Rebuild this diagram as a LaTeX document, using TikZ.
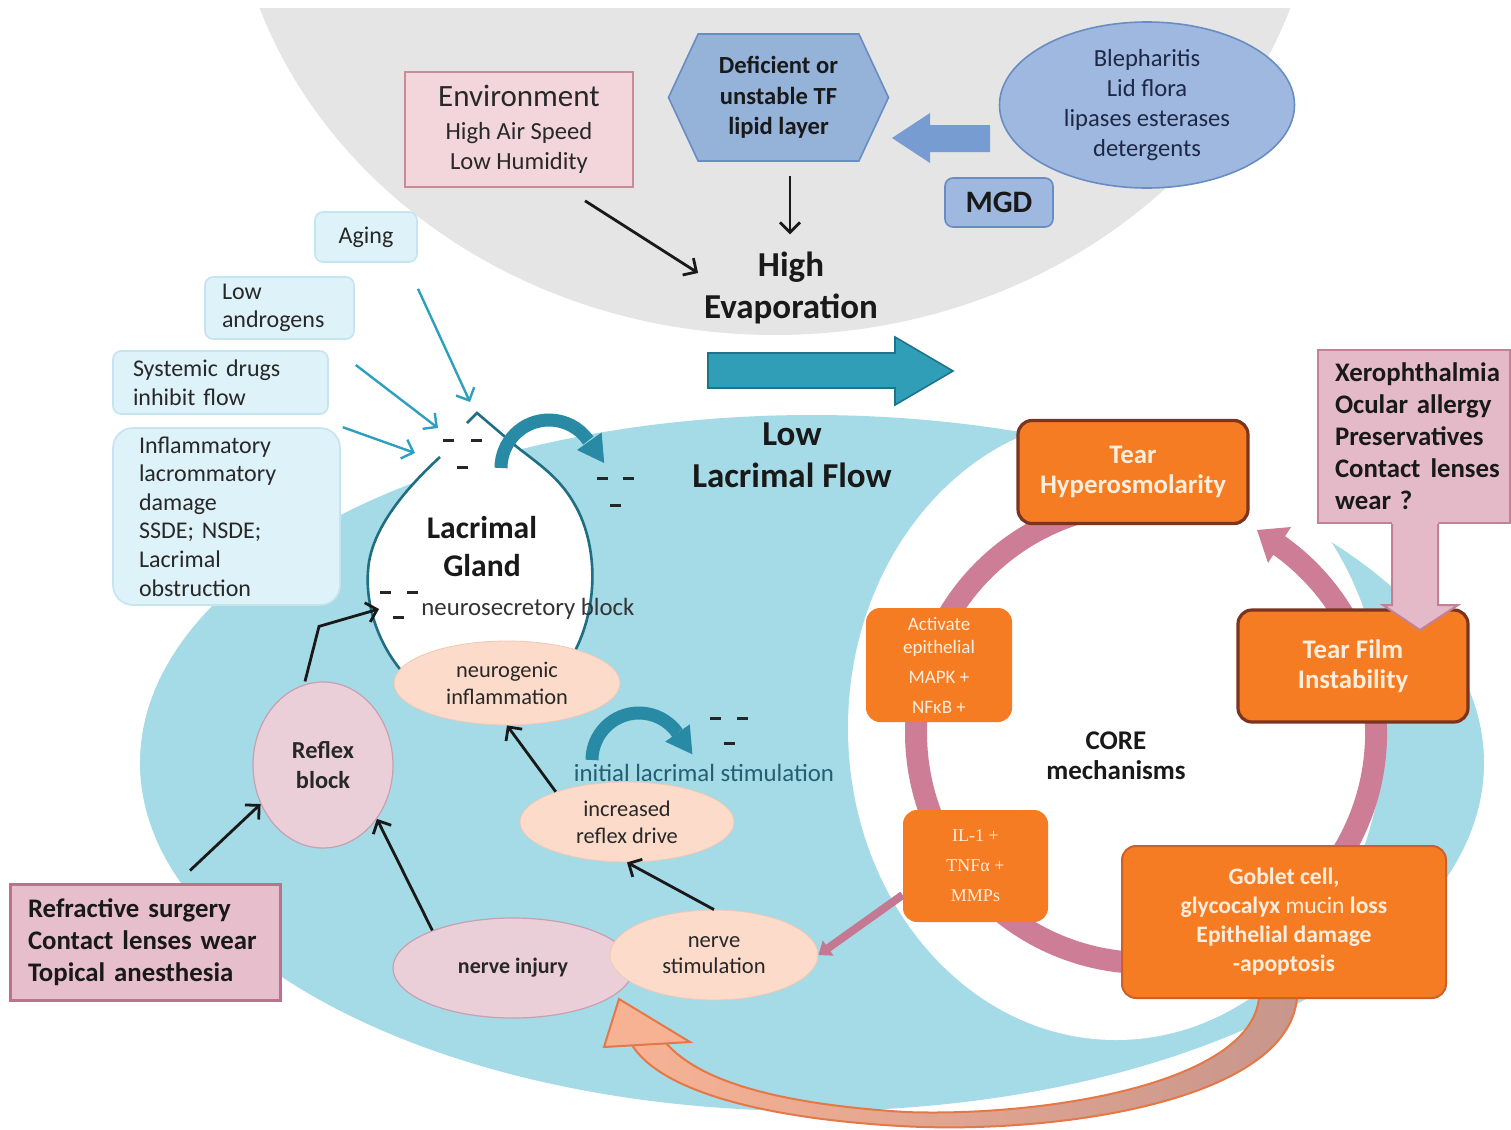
\documentclass[tikz,border=0pt]{standalone}
\usepackage{fontspec}
\setmainfont{Carlito}
\newfontfamily\serifx{Liberation Serif}
\usetikzlibrary{arrows.meta,shapes.geometric,shapes.symbols}
\definecolor{graybg}{RGB}{229,229,229}
\definecolor{lblue}{RGB}{165,218,231}
\definecolor{tealA}{RGB}{49,158,183}
\definecolor{tealD}{RGB}{30,115,140}
\definecolor{tealC}{RGB}{40,138,164}
\definecolor{tealL}{RGB}{45,160,190}
\definecolor{glandD}{RGB}{31,110,130}
\definecolor{hexF}{RGB}{149,179,217}
\definecolor{hexD}{RGB}{105,140,195}
\definecolor{bleF}{RGB}{158,184,223}
\definecolor{arrB}{RGB}{118,156,210}
\definecolor{envF}{RGB}{242,214,220}
\definecolor{envD}{RGB}{200,140,152}
\definecolor{boxLB}{RGB}{222,242,249}
\definecolor{boxLBd}{RGB}{196,228,239}
\definecolor{pinkF}{RGB}{234,207,217}
\definecolor{pinkD}{RGB}{200,160,176}
\definecolor{peachF}{RGB}{252,219,202}
\definecolor{peachD}{RGB}{240,200,180}
\definecolor{orangeF}{RGB}{245,124,34}
\definecolor{orangeD}{RGB}{125,52,30}
\definecolor{orangeM}{RGB}{205,95,45}
\definecolor{ringC}{RGB}{206,125,151}
\definecolor{xeroF}{RGB}{228,186,200}
\definecolor{xeroD}{RGB}{196,128,150}
\definecolor{refF}{RGB}{231,190,203}
\definecolor{refD}{RGB}{186,115,138}
\definecolor{paleT}{RGB}{255,238,222}
\definecolor{stimT}{RGB}{35,95,112}
\definecolor{botF}{RGB}{247,178,148}
\definecolor{botR}{RGB}{200,150,140}
\definecolor{botD}{RGB}{228,120,70}
\definecolor{mauveA}{RGB}{196,120,146}
\definecolor{txtD}{RGB}{40,40,40}
\definecolor{navyT}{RGB}{30,40,70}
\begin{document}
\begin{tikzpicture}[x=0.5pt,y=-0.5pt,
  blk/.style={draw=black!90,line width=1.4pt,-{Straight Barb[length=5pt,width=10pt]}},
  tl/.style={draw=tealL,line width=1.2pt,-{Straight Barb[length=5pt,width=10pt]}},
  lbox/.style={draw=boxLBd,fill=boxLB,line width=0.8pt,rounded corners=4pt,
    font=\fontsize{12}{14.3}\selectfont,text=txtD,inner ysep=0pt},
  pell/.style={ellipse,draw=pinkD,fill=pinkF,line width=0.6pt,inner sep=0pt,align=center,text=txtD},
  fell/.style={ellipse,fill=peachF,draw=peachD,line width=0.4pt,inner sep=0pt,align=center,
    font=\fontsize{11.2}{13.5}\selectfont,text=txtD},
  obox/.style={rounded corners=7pt,fill=orangeF,inner sep=0pt,align=center,text=paleT},
  dsh/.style={line width=1.5pt,draw=black!85},
  tarc/.style={draw=tealC,line width=6.5pt},
  ]
\useasboundingbox (0,0) rectangle (1511,1130);
% backgrounds
\begin{scope}
  \clip (0,8) rectangle (1511,1130);
  \fill[graybg] (775,-150) ellipse [x radius=545, y radius=485];
\end{scope}
\fill[lblue] (812,763) ellipse [x radius=672, y radius=348];
\fill[white] (1116,728) ellipse [x radius=268, y radius=312];

% core ring
\draw[ringC,line width=11pt] (1106.1,506.5) arc[start angle=-100, end angle=-415, radius=230];
\fill[ringC] (1291,527) -- (1257,530) -- (1268,563) -- cycle;

% bottom curved arrow
\shadedraw[left color=botF,right color=botR,draw=botD,line width=1pt]
  (1297,998) .. controls (1288,1100) and (1060,1135) .. (900,1126)
  .. controls (760,1118) and (660,1090) .. (632,1045)
  -- (666,1043)
  .. controls (700,1082) and (780,1104) .. (905,1112)
  .. controls (1040,1117) and (1250,1085) .. (1259,998) -- cycle;
\filldraw[fill=botF,draw=botD,line width=1pt] (604,1047) -- (619,999) -- (690,1042) -- cycle;

% top region
\node[draw=envD,fill=envF,line width=0.8pt,minimum width=114pt,minimum height=57.5pt,
  inner sep=0pt,align=center,text=txtD,font=\fontsize{12.3}{15}\selectfont]
  (env) at (519,129.5) {{\fontsize{15.5}{15}\selectfont Environment}\\[1.5pt]High Air Speed\\Low Humidity};
\node[signal,signal to=west and east,signal pointer angle=130,draw=hexD,fill=hexF,line width=0.8pt,
  minimum width=110pt,minimum height=63.5pt,inner sep=0pt,align=center,
  font=\bfseries\fontsize{12.3}{15.25}\selectfont,text=black!90]
  (hex) at (778.5,97.5) {Deficient or\\unstable TF\\lipid layer};
\node[ellipse,draw=hexD,fill=bleF,line width=0.8pt,minimum width=147.5pt,minimum height=83pt,
  inner sep=0pt,align=center,font=\fontsize{12.3}{15}\selectfont,text=navyT]
  (bleph) at (1147,105) {Blepharitis\\Lid flora\\lipases esterases\\detergents};
\node[draw=hexD,fill=bleF,line width=0.8pt,rounded corners=4pt,minimum width=54pt,minimum height=24.5pt,
  inner sep=0pt,font=\bfseries\fontsize{15.6}{18}\selectfont,text=black!90]
  (mgd) at (999,202.5) {MGD};
\fill[arrB] (990,125) -- (930,125) -- (930,113) -- (892,138) -- (930,163) -- (930,152) -- (990,152) -- cycle;
\node[inner sep=0pt,align=center,font=\bfseries\fontsize{17.5}{21}\selectfont,text=black!90]
  (evap) at (791,288) {High\\Evaporation};
\draw[blk] ([xshift=33pt,yshift=-6.5pt]env.south) -- ([xshift=-2.8pt,yshift=7.5pt]evap.west);
\draw[blk] ([xshift=5.75pt,yshift=-7pt]hex.south) -- ([xshift=-0.5pt,yshift=8.6pt]evap.north);

% big teal arrow
\filldraw[fill=tealA,draw=tealD,line width=0.8pt]
  (708,353) -- (895,353) -- (895,337) -- (953,371) -- (895,405) -- (895,388) -- (708,388) -- cycle;
\node[inner sep=0pt,align=center,font=\bfseries\fontsize{17.5}{21}\selectfont,text=black!90]
  (llf) at (792,455) {Low\\Lacrimal Flow};

% left factor boxes
\node[lbox,minimum width=51pt,minimum height=25pt,inner xsep=0pt] (aging) at (366,237) {Aging};
\node[lbox,minimum height=31pt,inner xsep=8.5pt,text width=57.5pt,align=left] (andro) at (279.5,308) {Low\\androgens};
\node[lbox,minimum height=31.5pt,inner xsep=10pt,text width=87.5pt,align=left] (sysd) at (220.5,382.5) {Systemic drugs\\inhibit flow};
\node[lbox,rounded corners=10pt,minimum height=88.5pt,inner xsep=13pt,text width=87.5pt,align=left]
  (inflam) at (226.5,516.5) {Inflammatory\\lacrommatory\\damage\\SSDE; NSDE;\\Lacrimal\\obstruction};

% lacrimal gland
\fill[white] (440,457) .. controls (415,480) and (376,520) .. (369,562)
  .. controls (363,602) and (378,645) .. (405,675)
  .. controls (440,712) and (540,712) .. (570,660)
  .. controls (600,610) and (598,545) .. (575,505)
  .. controls (560,478) and (540,465) .. (517,447) -- (477,413) -- (467,423) -- cycle;
\draw[glandD,line width=1.3pt] (440,457) .. controls (415,480) and (376,520) .. (369,562)
  .. controls (363,602) and (378,645) .. (405,675)
  .. controls (440,712) and (540,712) .. (570,660)
  .. controls (600,610) and (598,545) .. (575,505)
  .. controls (560,478) and (540,465) .. (517,447) -- (477,413) -- (467,423);
\node[inner sep=0pt,align=center,font=\bfseries\fontsize{15.8}{19}\selectfont,text=black!90]
  (gland) at (482,547) {Lacrimal\\Gland};

\coordinate (g1) at (470,402);
\coordinate (g2) at (438,428);
\coordinate (g3) at (415,453);
\coordinate (g4) at (379,609);
\draw[tl] ([xshift=26pt,yshift=-13pt]aging.south) -- (g1);
\draw[tl] ([xshift=13.5pt,yshift=8.75pt]sysd.east) -- (g2);
\draw[tl] ([xshift=1pt]inflam.north east) -- (g3);

% curved teal arrows
\draw[tarc] (501,468) arc[start angle=-180, end angle=-35, radius=48];
\fill[tealC] (601.6,432.4) -- (604.2,463) -- (577,450) -- cycle;
\draw[tarc] (592,760) arc[start angle=-180, end angle=-35, radius=47];
\fill[tealC] (689.8,724.4) -- (692.4,754.3) -- (665.2,741.6) -- cycle;

% dashes
\draw[dsh] (443,440) -- (454,440) (471,440) -- (482,440) (457,467) -- (468,467);
\draw[dsh] (597,478) -- (608,478) (623,478) -- (634,478) (610,505) -- (621,505);
\draw[dsh] (380,592) -- (391,592) (407,592) -- (418,592) (393,617) -- (404,617);
\draw[dsh] (710,718) -- (721,718) (737,718) -- (748,718) (724,743) -- (735,743);

\node[anchor=west,inner sep=0pt,font=\fontsize{12.4}{15}\selectfont,text=black!80] (nsb) at (421,609) {neurosecretory block};
\node[inner sep=0pt,font=\fontsize{12.4}{15}\selectfont,text=stimT] (ils) at (704,773) {initial lacrimal stimulation};

% ellipses
\node[fell,minimum width=113pt,minimum height=42pt] (neuro) at (507,683) {neurogenic\\inflammation};
\node[fell,minimum width=107pt,minimum height=40pt] (incr) at (627,822) {increased\\reflex drive};
\node[pell,minimum width=120pt,minimum height=50pt,font=\bfseries\fontsize{11}{13}\selectfont] (ninj) at (513,968) {nerve injury};
\node[fell,minimum width=104pt,minimum height=45pt,font=\fontsize{11.3}{13}\selectfont] (nstim) at (714,955) {nerve\\stimulation};
\node[pell,minimum width=70pt,minimum height=83pt,font=\bfseries\fontsize{12.2}{15}\selectfont] (reflex) at (323,765) {Reflex\\block};

\node[draw=refD,fill=refF,line width=1.5pt,minimum width=135pt,minimum height=58pt,inner xsep=9pt,
  text width=117pt,align=left,font=\bfseries\fontsize{13.4}{16}\selectfont,text=black!90]
  (refr) at (145,942) {Refractive surgery\\Contact lenses wear\\Topical anesthesia};

% black connectors
\draw[blk] ([xshift=-9pt]reflex.north) -- ++(7pt,27.5pt) -- (g4);
\draw[blk] ([xshift=22.5pt,yshift=6pt]refr.north) -- (reflex.212);
\draw[blk] (ninj.155) -- (reflex.315);
\draw[blk] (incr.157) -- (neuro.south);
\draw[blk] (nstim.north) -- (incr.south);

% orange boxes
\node[obox,draw=orangeD,line width=1.6pt,minimum width=115pt,minimum height=51.5pt,
  font=\bfseries\fontsize{13.4}{15}\selectfont] (hyper) at (1133,472) {Tear\\Hyperosmolarity};
\node[obox,draw=orangeD,line width=1.6pt,minimum width=115pt,minimum height=56pt,
  font=\bfseries\fontsize{13.4}{15}\selectfont] (tfi) at (1353,666) {Tear Film\\Instability};
\node[obox,draw=orangeM,line width=1pt,minimum width=162pt,minimum height=76pt,
  font=\bfseries\fontsize{11.8}{14.5}\selectfont] (gob) at (1284,922)
  {Goblet cell,\\glycocalyx {\mdseries mucin} loss\\Epithelial damage\\-apoptosis};
\node[obox,minimum width=73pt,minimum height=57pt,font=\fontsize{9.5}{11.5}\selectfont] (act) at (939,665)
  {Activate\\epithelial\\[3.5pt]MAPK +\\[3.5pt]NFκB +};
\node[obox,minimum width=72.5pt,minimum height=56pt,font=\serifx\fontsize{9}{15}\selectfont] (il1) at (975.5,866)
  {IL-1 +\\TNFα +\\MMPs};
\draw[mauveA,line width=4pt,-{Triangle[length=6pt,width=9pt]}] ([yshift=-14.5pt]il1.west) -- (nstim.east);
\node[inner sep=0pt,align=center,font=\bfseries\fontsize{13.5}{15}\selectfont,text=black!90]
  (core) at (1116,756) {CORE\\mechanisms};

% xerophthalmia box and arrow
\node[draw=xeroD,fill=xeroF,line width=1.2pt,minimum height=86.5pt,inner xsep=8.5pt,
  text width=79pt,align=left,font=\bfseries\fontsize{13.4}{16}\selectfont,text=black!90]
  (xero) at (1414,436.5) {Xerophthalmia\\Ocular allergy\\Preservatives\\\mbox{Contact\hspace{5pt}lenses}\\wear ?};
\fill[xeroF] (1392,522) -- (1392,605) -- (1383,605) -- (1420,630) -- (1458,605) -- (1438,605) -- (1438,522) -- cycle;
\draw[xeroD,line width=1pt] (1392,524) -- (1392,605) -- (1383,605) -- (1420,630) -- (1458,605) -- (1438,605) -- (1438,524);
\end{tikzpicture}
\end{document}
